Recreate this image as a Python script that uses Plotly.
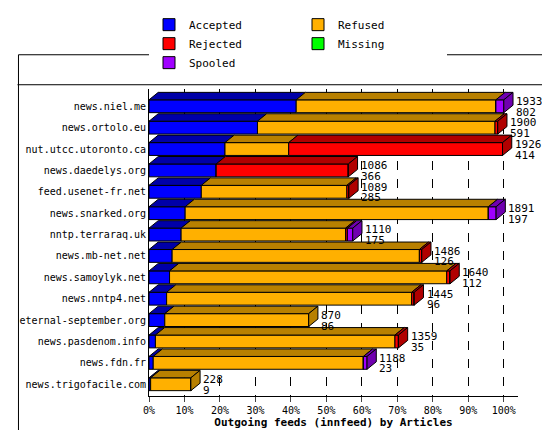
import plotly.graph_objects as go

feeds = ['news.niel.me', 'news.ortolo.eu', 'nut.utcc.utoronto.ca', 'news.daedelys.org',
         'feed.usenet-fr.net', 'news.snarked.org', 'nntp.terraraq.uk', 'news.mb-net.net',
         'news.samoylyk.net', 'news.nntp4.net', 'eternal-september.org', 'news.pasdenom.info',
         'news.fdn.fr', 'news.trigofacile.com']
total = [1933, 1900, 1926, 1086, 1089, 1891, 1110, 1486, 1640, 1445, 870, 1359, 1188, 228]
accepted = [802, 591, 414, 366, 285, 197, 175, 126, 112, 96, 86, 35, 23, 9]
refused = [1088, 1294, 347, 0, 793, 1652, 896, 1347, 1510, 1335, 784, 1305, 1145, 219]
rejected = [0, 15, 1165, 720, 11, 0, 10, 13, 18, 14, 0, 19, 0, 0]
missing = [0] * 14
spooled = [43, 0, 0, 0, 0, 42, 29, 0, 0, 0, 0, 0, 20, 0]

series = [('Accepted', accepted, '#0000ff', '#0000a8'),
          ('Refused', refused, '#ffb000', '#b88000'),
          ('Rejected', rejected, '#ff0000', '#b00000'),
          ('Missing', missing, '#00ff00', '#00a000'),
          ('Spooled', spooled, '#a000ff', '#7000b0')]

W, H = 550, 430
ML, MR, MT, MB = 134, 40, 40, 42
pw, ph = W - ML - MR, H - MT - MB

mx = max(total)
n = len(feeds)
ypos = [n - 1 - i for i in range(n)]
bw = 0.6
dx, dy = 2.6, 0.35

fig = go.Figure()
shapes = []
left = [0.0] * n
for name, vals, col, dark in series:
    pct = [v / mx * 100 for v in vals]
    fig.add_trace(go.Bar(x=pct, y=ypos, base=left, orientation='h', name=name, width=bw,
                         marker=dict(color=col, line=dict(color='black', width=1))))
    for i in range(n):
        if pct[i] <= 0:
            continue
        x0, x1, yt = left[i], left[i] + pct[i], ypos[i] + bw / 2
        shapes.append(dict(type='path', xref='x', yref='y', fillcolor=dark,
                           line=dict(color='black', width=1),
                           path=f'M{x0},{yt} L{x0+dx},{yt+dy} L{x1+dx},{yt+dy} L{x1},{yt} Z'))
    left = [left[i] + pct[i] for i in range(n)]

# side faces on the last segment of each bar, plus total / accepted labels
for i in range(n):
    last = [d for _, v, _, d in series if v[i] > 0][-1]
    x1, yt, yb = left[i], ypos[i] + bw / 2, ypos[i] - bw / 2
    shapes.append(dict(type='path', xref='x', yref='y', fillcolor=last,
                       line=dict(color='black', width=1),
                       path=f'M{x1},{yt} L{x1+dx},{yt+dy} L{x1+dx},{yb+dy} L{x1},{yb} Z'))
    fig.add_annotation(x=x1 + dx + 0.3, y=ypos[i] + 0.22, text=str(total[i]),
                       showarrow=False, xanchor='left', yanchor='middle',
                       font=dict(size=11, color='black'))
    fig.add_annotation(x=x1 + dx + 0.3, y=ypos[i] - 0.28, text=str(accepted[i]),
                       showarrow=False, xanchor='left', yanchor='middle',
                       font=dict(size=11, color='black'))

# legend separator and outer frame
sep = 1 + (MT - 35) / ph
shapes.append(dict(type='line', xref='paper', yref='paper', x0=-ML / pw, x1=1 + MR / pw,
                   y0=sep, y1=sep, line=dict(color='black', width=1)))
shapes.append(dict(type='rect', xref='paper', yref='paper',
                   x0=-(ML - 1) / pw, x1=1 + (MR - 1) / pw,
                   y0=-(MB - 1) / ph, y1=1 + (MT - 1) / ph,
                   line=dict(color='black', width=1)))

fig.update_layout(
    width=W, height=H, barmode='overlay',
    paper_bgcolor='white', plot_bgcolor='white',
    font=dict(family='DejaVu Sans Mono', size=10, color='black'),
    margin=dict(l=ML, r=MR, t=MT, b=MB),
    shapes=shapes, showlegend=True,
    legend=dict(orientation='h', x=0.0, xanchor='left', y=0.995, yref='container', yanchor='top',
                font=dict(size=11), entrywidth=104, entrywidthmode='pixels',
                traceorder='normal'),
    xaxis=dict(range=[0, 104], tickvals=list(range(0, 101, 10)),
               ticktext=[f'{v}%' for v in range(0, 101, 10)],
               showgrid=True, gridcolor='black', griddash='dash', gridwidth=1,
               showline=True, linecolor='black', ticks='outside', zeroline=False,
               title=dict(text='<b>Outgoing feeds (innfeed) by Articles</b>', standoff=2,
                          font=dict(size=11))),
    yaxis=dict(range=[-0.55, n - 0.2], tickvals=ypos, ticktext=feeds, showgrid=False,
               showline=True, linecolor='black', ticks='', zeroline=False),
)
fig.update_xaxes(mirror=False)
fig.write_html('out.html')
